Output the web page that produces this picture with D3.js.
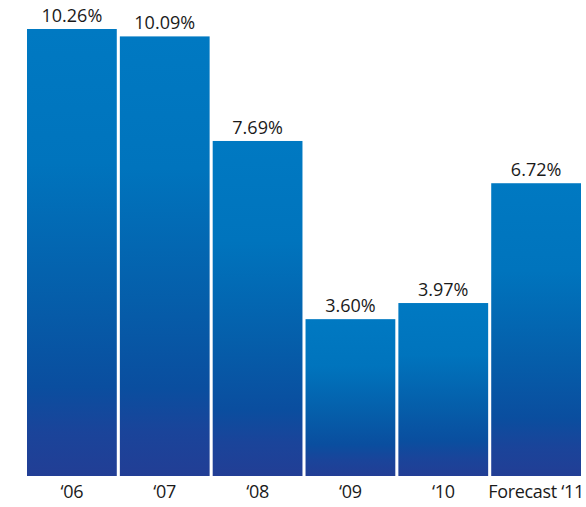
<!DOCTYPE html>
<html>
<head>
<meta charset="utf-8">
<script src="https://cdn.jsdelivr.net/npm/d3@7"></script>
<style>
  html, body { margin: 0; padding: 0; background: #fff; }
  svg { display: block; }
  text { font-family: "Open Sans", "Noto Sans", sans-serif; fill: #1a1a1a; }
</style>
</head>
<body>
<svg id="chart" width="586" height="507"></svg>
<script>
// Annual growth rates, with the forecast year last
const categories = ["\u201806", "\u201807", "\u201808", "\u201809", "\u201810", "Forecast \u201811"];
const values = [10.26, 10.09, 7.69, 3.60, 3.97, 6.72];
const valueLabels = ["10.26%", "10.09%", "7.69%", "3.60%", "3.97%", "6.72%"];

const svg = d3.select("#chart");
const baseline = 476;

const x = d3.scaleBand()
  .domain(categories)
  .range([27, 581])
  .paddingInner(0.033)
  .paddingOuter(0);

const y = d3.scaleLinear()
  .domain([0, 10.26])
  .range([baseline, 29]);

// Vertical blue gradient applied per bar
const defs = svg.append("defs");
const grad = defs.append("linearGradient")
  .attr("id", "barGrad")
  .attr("x1", 0).attr("y1", 0).attr("x2", 0).attr("y2", 1);
[
  [0, "#0079c2"],
  [0.3, "#0074bd"],
  [0.6, "#055eaa"],
  [0.8, "#0a4e9f"],
  [0.9, "#1a449a"],
  [1, "#223e95"]
].forEach(([o, c]) => grad.append("stop").attr("offset", o).attr("stop-color", c));

const data = categories.map((c, i) => ({ cat: c, value: values[i], label: valueLabels[i] }));

svg.selectAll("rect.bar")
  .data(data)
  .join("rect")
  .attr("class", "bar")
  .attr("x", d => x(d.cat))
  .attr("y", d => y(d.value))
  .attr("width", x.bandwidth())
  .attr("height", d => baseline - y(d.value))
  .attr("fill", "url(#barGrad)");

svg.selectAll("text.value")
  .data(data)
  .join("text")
  .attr("class", "value")
  .attr("x", d => x(d.cat) + x.bandwidth() / 2)
  .attr("y", d => y(d.value) - 7)
  .attr("text-anchor", "middle")
  .attr("font-size", 18)
  .text(d => d.label);

// Category axis below the bars, without domain line or ticks
const xAxis = svg.append("g")
  .attr("transform", `translate(0,${baseline})`)
  .call(d3.axisBottom(x).tickSize(0).tickPadding(9));
xAxis.select(".domain").remove();
xAxis.selectAll("text")
  .attr("font-family", "\"Open Sans\", \"Noto Sans\", sans-serif")
  .attr("font-size", 18)
  .attr("letter-spacing", -0.3)
  .attr("fill", "#1a1a1a")
  .attr("dy", "0.71em");
</script>
</body>
</html>
